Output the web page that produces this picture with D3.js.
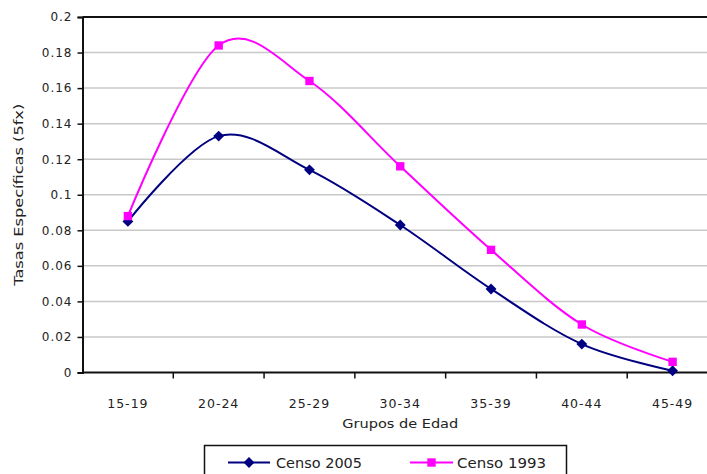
<!DOCTYPE html>
<html>
<head>
<meta charset="utf-8">
<script src="https://cdn.jsdelivr.net/npm/d3@7"></script>
<style>
  html, body { margin: 0; padding: 0; background: #fff; }
  svg { display: block; }
  text { font-family: "DejaVu Sans", Verdana, sans-serif; fill: #222; }
</style>
</head>
<body>
<svg id="chart" width="707" height="474"></svg>
<script>
// Age groups and age-specific fertility rates by census
const ageGroups = ["15-19", "20-24", "25-29", "30-34", "35-39", "40-44", "45-49"];
const censo2005 = [0.085, 0.133, 0.114, 0.083, 0.047, 0.016, 0.001];
const censo1993 = [0.088, 0.184, 0.164, 0.116, 0.069, 0.027, 0.006];
const yTicks = [0, 0.02, 0.04, 0.06, 0.08, 0.1, 0.12, 0.14, 0.16, 0.18, 0.2];

const series = [
  { name: "Censo 2005", values: censo2005, color: "#000080", marker: "diamond" },
  { name: "Censo 1993", values: censo1993, color: "#ff00ff", marker: "square" }
];

const W = 707, H = 474;
const plot = { left: 82.5, top: 17, right: 718, bottom: 372.5 };

const svg = d3.select("#chart");

const x = d3.scaleBand().domain(ageGroups).range([plot.left, plot.right]).padding(0);
const y = d3.scaleLinear().domain([0, 0.2]).range([plot.bottom, plot.top]);

// horizontal gridlines
svg.append("g")
  .selectAll("line")
  .data(yTicks.filter(t => t > 0 && t < 0.2))
  .join("line")
  .attr("x1", plot.left).attr("x2", W)
  .attr("y1", d => y(d)).attr("y2", d => y(d))
  .attr("stroke", "#c8c8c8").attr("stroke-width", 1.5);

// top border of the plot area
svg.append("line")
  .attr("x1", plot.left).attr("x2", W)
  .attr("y1", y(0.2)).attr("y2", y(0.2))
  .attr("stroke", "#111").attr("stroke-width", 2);

// y axis
const yAxis = svg.append("g")
  .attr("transform", `translate(${plot.left},0)`)
  .call(d3.axisLeft(y).tickValues(yTicks).tickSize(5).tickPadding(5)
    .tickFormat(d => d3.format("")(+d.toFixed(2))));
yAxis.select(".domain").attr("stroke", "#111").attr("stroke-width", 2);
yAxis.selectAll(".tick line").attr("stroke", "#111").attr("stroke-width", 1.5);
yAxis.selectAll(".tick text")
  .style("font-size", "12px").style("letter-spacing", "1px").attr("fill", "#222");

// x axis: ticks on category boundaries, labels centred in each band
const xAxis = svg.append("g").attr("transform", `translate(0,${plot.bottom})`);
xAxis.append("line")
  .attr("x1", plot.left).attr("x2", W)
  .attr("stroke", "#111").attr("stroke-width", 2);
xAxis.selectAll("line.tk")
  .data(ageGroups.slice(1))
  .join("line").attr("class", "tk")
  .attr("x1", d => x(d)).attr("x2", d => x(d))
  .attr("y1", 0).attr("y2", 6)
  .attr("stroke", "#111").attr("stroke-width", 1.5);
xAxis.selectAll("text")
  .data(ageGroups)
  .join("text")
  .attr("x", d => x(d) + x.bandwidth() / 2)
  .attr("y", 35)
  .attr("text-anchor", "middle")
  .style("font-size", "12.5px")
  .style("letter-spacing", "1px")
  .text(d => d);

// axis titles
svg.append("text")
  .attr("x", plot.left + (plot.right - plot.left) / 2)
  .attr("y", 428)
  .attr("text-anchor", "middle")
  .attr("textLength", 116).attr("lengthAdjust", "spacingAndGlyphs")
  .style("font-size", "13px")
  .text("Grupos de Edad");

svg.append("text")
  .attr("transform", `translate(23,${(plot.top + plot.bottom) / 2}) rotate(-90)`)
  .attr("text-anchor", "middle")
  .attr("textLength", 182).attr("lengthAdjust", "spacingAndGlyphs")
  .style("font-size", "13px")
  .text("Tasas Específicas (5fx)");

// smoothed series lines
const line = d3.line()
  .x((d, i) => x(ageGroups[i]) + x.bandwidth() / 2)
  .y(d => y(d))
  .curve(d3.curveCardinal.tension(0));

const diamond = d3.symbol().type(d3.symbolDiamond2).size(75);
const square = d3.symbol().type(d3.symbolSquare).size(70);

series.forEach(s => {
  const g = svg.append("g");
  g.append("path")
    .attr("d", line(s.values))
    .attr("fill", "none")
    .attr("stroke", s.color)
    .attr("stroke-width", 2);
  g.selectAll("path.mk")
    .data(s.values)
    .join("path").attr("class", "mk")
    .attr("transform", (d, i) => `translate(${x(ageGroups[i]) + x.bandwidth() / 2},${y(d)})`)
    .attr("d", s.marker === "diamond" ? diamond : square)
    .attr("fill", s.color);
});

// legend
const legend = svg.append("g");
legend.append("rect")
  .attr("x", 204.5).attr("y", 445.5)
  .attr("width", 362).attr("height", 40)
  .attr("fill", "#fff").attr("stroke", "#111").attr("stroke-width", 1.5);

const legendItems = [
  { s: series[0], x0: 228, x1: 270, tx: 276, w: 86 },
  { s: series[1], x0: 410, x1: 453, tx: 457, w: 89 }
];
legendItems.forEach(it => {
  const ly = 462.5;
  legend.append("line")
    .attr("x1", it.x0).attr("x2", it.x1)
    .attr("y1", ly).attr("y2", ly)
    .attr("stroke", it.s.color).attr("stroke-width", 2);
  legend.append("path")
    .attr("transform", `translate(${(it.x0 + it.x1) / 2},${ly})`)
    .attr("d", it.s.marker === "diamond" ? diamond : square)
    .attr("fill", it.s.color);
  legend.append("text")
    .attr("x", it.tx).attr("y", ly + 5)
    .attr("textLength", it.w).attr("lengthAdjust", "spacingAndGlyphs")
    .style("font-size", "13.5px")
    .text(it.s.name);
});
</script>
</body>
</html>
